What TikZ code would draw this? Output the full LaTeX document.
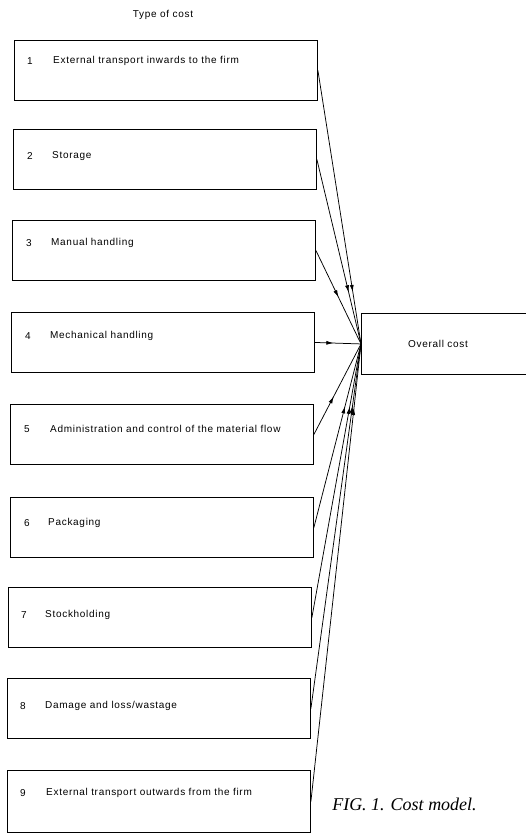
\documentclass[tikz,border=0pt]{standalone}
\usepackage{fontspec}
\usetikzlibrary{arrows.meta,decorations.markings}
\newfontfamily\lblfont{Liberation Sans}[LetterSpace=7]
\newfontfamily\capfont{Liberation Serif}
\begin{document}
\begin{tikzpicture}[x=1pt,y=-1pt,
  costbox/.style={draw, line width=0.9pt, minimum width=303pt, minimum height=60pt, anchor=north west, inner sep=0pt},
  lbl/.style={font=\lblfont\fontsize{10}{12}\selectfont, inner sep=0pt},
  numlbl/.style={lbl, anchor=center},
  txtlbl/.style={lbl, anchor=west},
  flow/.style={line width=0.75pt, postaction={decorate},
    decoration={markings, mark=at position #1 with {\arrow{Latex[length=7pt,width=4pt]}}}}
]
\useasboundingbox (0,0) rectangle (525,833);

\node[lbl] (title) at (163,15) {Type of cost};

\node[costbox] (b1) at (14,40) {};
\node[costbox] (b2) at (13,129) {};
\node[costbox] (b3) at (12,220) {};
\node[costbox] (b4) at (11,312) {};
\node[costbox] (b5) at (10,404) {};
\node[costbox] (b6) at (10,497) {};
\node[costbox] (b7) at (8,587) {};
\node[costbox] (b8) at (7,678) {};
\node[costbox, minimum height=62pt] (b9) at (7,770) {};

\node[numlbl] (n1) at (30,61) {1};
\node[txtlbl] (t1) at (53,61) {External transport inwards to the firm};
\node[numlbl] (n2) at (30,156) {2};
\node[txtlbl] (t2) at (52,156) {Storage};
\node[numlbl] (n3) at (29,243) {3};
\node[txtlbl] (t3) at (51,243) {Manual handling};
\node[numlbl] (n4) at (28,336) {4};
\node[txtlbl] (t4) at (50,336) {Mechanical handling};
\node[numlbl] (n5) at (27,429) {5};
\node[txtlbl] (t5) at (50,429) {Administration and control of the material flow};
\node[numlbl] (n6) at (27,523) {6};
\node[txtlbl] (t6) at (48,523) {Packaging};
\node[numlbl] (n7) at (24,615) {7};
\node[txtlbl] (t7) at (45,615) {Stockholding};
\node[numlbl] (n8) at (23,706) {8};
\node[txtlbl] (t8) at (45,706) {Damage and loss/wastage};
\node[numlbl] (n9) at (23,793) {9};
\node[txtlbl] (t9) at (46,793) {External transport outwards from the firm};

\node[draw, line width=0.9pt, minimum width=180pt, minimum height=61pt, anchor=north west, inner sep=0pt] (oc) at (361,313) {};
\node[lbl] (octxt) at (438,344) {Overall cost};

\draw[flow=0.81] (b1.east) -- (oc.west);
\draw[flow=0.72] (b2.east) -- (oc.west);
\draw[flow=0.50] (b3.east) -- (oc.west);
\draw[flow=0.40] (b4.east) -- (oc.west);
\draw[flow=0.42] (b5.east) -- (oc.west);
\draw[flow=0.66] (b6.east) -- (oc.west);
\draw[flow=0.77] (b7.east) -- (oc.west);
\draw[flow=0.83] (b8.east) -- (oc.west);
\draw[flow=0.86] (b9.east) -- (oc.west);

\node[font=\capfont\itshape\fontsize{18}{20}\selectfont, inner sep=0pt] (cap) at (404.5,804) {FIG. 1. Cost model.};
\end{tikzpicture}
\end{document}
